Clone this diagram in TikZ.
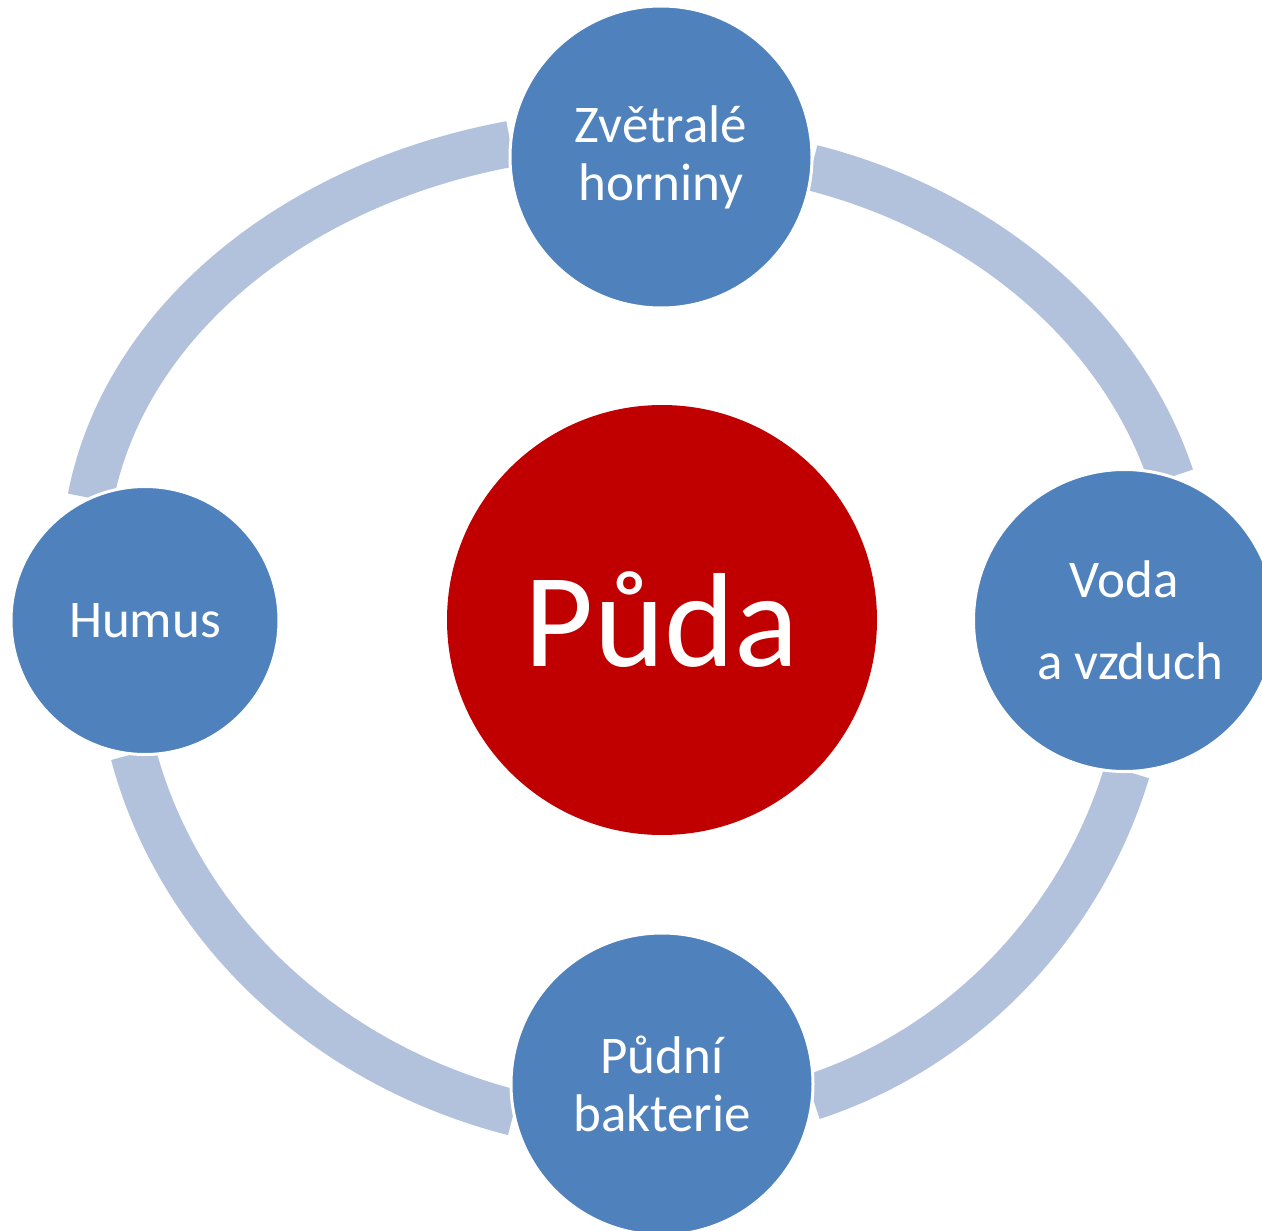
\documentclass[tikz,border=0pt]{standalone}
\usepackage{fontspec}
\setmainfont{Carlito}
\usepackage{tikz}
\usetikzlibrary{backgrounds}
\definecolor{partblue}{HTML}{4F81BD}
\definecolor{ringblue}{HTML}{B3C2DC}
\definecolor{pudared}{HTML}{C00000}
\tikzset{
  part/.style={circle, fill=partblue, draw=white, line width=3pt, inner sep=0pt, outer sep=0pt,
    minimum size=302pt, text=white, align=center, font=\fontsize{53}{58}\selectfont},
  core/.style={circle, fill=pudared, inner sep=0pt, outer sep=0pt, minimum size=430pt,
    text=white, font=\fontsize{134}{140}\selectfont},
  ring/.style={ringblue, line width=46pt}
}

\begin{document}
\begin{tikzpicture}[x=1pt,y=-1pt]
		%%%%% START %%%%%
		\useasboundingbox (0,0) rectangle (1262,1231);
		
		\node[core] (puda) at (662,620) {Půda};
		
		\node[part] (zt) at (661,157) {Zvětralé\\horniny};
		\node[part] (vo) at (1124.5,620.5) {Voda\\[24pt]\ a vzduch};
		\node[part] (pb) at (662,1084) {Půdní\\bakterie};
		\node[part, minimum size=268pt] (hu) at (145,620.5) {Humus};
		
		\begin{scope}[on background layer]
			\fill[white] (0,0) rectangle (1262,1231);
			\draw[ring] (zt.175) .. controls (290.1,184.6) and (124.1,324.6) .. (hu.114);
			\draw[ring] (zt.-4) .. controls (986.3,212.0) and (1121.9,329.1) .. (vo.72);
			\draw[ring] (vo.-89) .. controls (1080.3,925.5) and (962.7,1047.6) .. (pb.-5);
			\draw[ring] (hu.265) .. controls (179.5,927.4) and (324.8,1064.5) .. (pb.191);
		\end{scope}
		%%%%% END %%%%%
\end{tikzpicture}
\end{document}
